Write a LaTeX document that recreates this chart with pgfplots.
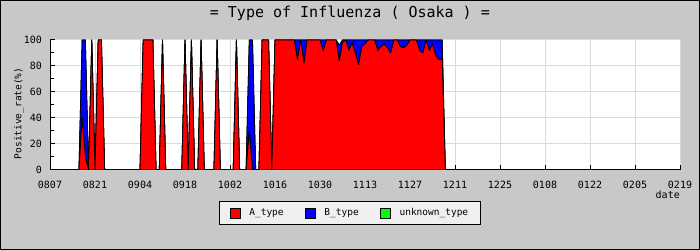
\documentclass[border=0pt]{standalone}
\usepackage{fontspec}
\setmainfont{DejaVu Sans Mono}
\usepackage{pgfplots}
\pgfplotsset{compat=1.18}
\usepackage{pgfplotstable}
\definecolor{bggray}{RGB}{200,200,200}
\definecolor{gridgray}{RGB}{218,218,218}
\definecolor{legbg}{RGB}{240,240,240}
\definecolor{atype}{RGB}{255,0,0}
\definecolor{btype}{RGB}{0,0,255}
\definecolor{utype}{RGB}{0,255,0}

\pgfplotstableread{
d A B U
0 0 0 0
9 0 0 0
10 40 60 0
11 10 90 0
12 0 0 0
13 100 0 0
14 0 0 0
15 100 0 0
16 100 0 0
17 0 0 0
28 0 0 0
29 100 0 0
30 100 0 0
31 100 0 0
32 100 0 0
33 0 0 0
34 0 0 0
35 100 0 0
36 0 0 0
41 0 0 0
42 100 0 0
43 0 0 0
44 100 0 0
45 0 0 0
46 0 0 0
47 100 0 0
48 0 0 0
51 0 0 0
52 100 0 0
53 0 0 0
57 0 0 0
58 100 0 0
59 0 0 0
61 0 0 0
62 30 70 0
63 0 100 0
64 0 0 0
65 0 0 0
66 100 0 0
67 100 0 0
68 100 0 0
69 0 0 0
70 100 0 0
71 100 0 0
72 100 0 0
73 100 0 0
74 100 0 0
75 100 0 0
76 100 0 0
77 85 15 0
78 100 0 0
79 82 18 0
80 100 0 0
81 100 0 0
82 100 0 0
83 100 0 0
84 100 0 0
85 91.5 8.5 0
86 100 0 0
87 100 0 0
88 100 0 0
89 100 0 0
90 84 12 0
91 98 2 0
92 100 0 0
93 92 8 0
94 98 2 0
95 90 10 0
96 81 19 0
97 95 5 0
98 97 3 0
99 100 0 0
100 100 0 0
101 100 0 0
102 92 8 0
103 95 5 0
104 97 3 0
105 94 6 0
106 90 10 0
107 100 0 0
108 100 0 0
109 95 5 0
110 94 6 0
111 96 4 0
112 100 0 0
113 100 0 0
114 100 0 0
115 92 8 0
116 90 10 0
117 100 0 0
118 92 8 0
119 97 3 0
120 88 12 0
121 85 15 0
122 85 15 0
123 0 0 0
}\flu

\begin{document}
\begin{tikzpicture}
\fill[bggray] (0,0) rectangle (700bp,250bp);
\fill[white] (50bp,80bp) rectangle (680bp,210bp);
\draw[black, line width=1bp] (0.5bp,0.5bp) rectangle (699.5bp,249.5bp);
\useasboundingbox (0,0) rectangle (700bp,250bp);
\begin{axis}[
  at={(50bp,80bp)}, anchor=south west,
  scale only axis, width=630bp, height=130bp,
  xmin=0, xmax=196, ymin=0, ymax=100,
  stack plots=y,
  grid style={draw=gridgray, line width=1bp},
  xmajorgrids, ymajorgrids,
  axis x line*=bottom, axis y line*=left,
  axis line style={line width=1bp, black},
  tick align=inside,
  major tick length=5bp, minor tick length=4bp,
  every tick/.style={black, line width=1bp},
  xtick={0,14,...,196},
  xticklabels={0807,0821,0904,0918,1002,1016,1030,1113,1127,1211,1225,0108,0122,0205,0219},
  ytick={0,20,...,100},
  minor ytick={10,30,50,70,90},
  /pgf/number format/assume math mode=true,
  tick label style={font=\fontsize{10bp}{12bp}\selectfont, text=black},
  xticklabel style={anchor=base, yshift=-19bp},
  yticklabel style={xshift=-4.5bp},
  title={= Type of Influenza ( Osaka ) =},
  title style={at={(axis description cs:0.476,1.1308)}, anchor=base, font=\fontsize{15bp}{18bp}\selectfont},
  ylabel={Positive\_rate(\%)},
  ylabel style={at={(axis description cs:-0.0492,0.436)}, anchor=center, font=\fontsize{9.5bp}{11bp}\selectfont},
  xlabel={date},
  xlabel style={at={(axis description cs:1,-0.218)}, anchor=base east, inner sep=0pt, font=\fontsize{10bp}{12bp}\selectfont},
  legend columns=3,
  legend cell align=left,
  legend image code/.code={\draw[#1] (0bp,-5bp) rectangle (10bp,5bp);},
  legend style={at={(axis description cs:0.476,-0.331)}, anchor=center,
    fill=legbg, draw=black, line width=1bp,
    font=\fontsize{9.5bp}{11bp}\selectfont,
    inner xsep=10bp, inner ysep=5bp,
    /tikz/every odd column/.append style={column sep=7bp},
    /tikz/every even column/.append style={column sep=19bp}},
]
\addplot[fill=atype, draw=black, line width=0.8bp, line join=round] table[x=d,y=A]{\flu} \closedcycle;
\addplot[fill=btype, draw=black, line width=0.8bp, line join=round] table[x=d,y=B]{\flu} \closedcycle;
\addplot[fill=utype, draw=black, line width=0.8bp, line join=round] table[x=d,y=U]{\flu} \closedcycle;
\legend{A\_type,B\_type,unknown\_type}
\end{axis}
\end{tikzpicture}
\end{document}
